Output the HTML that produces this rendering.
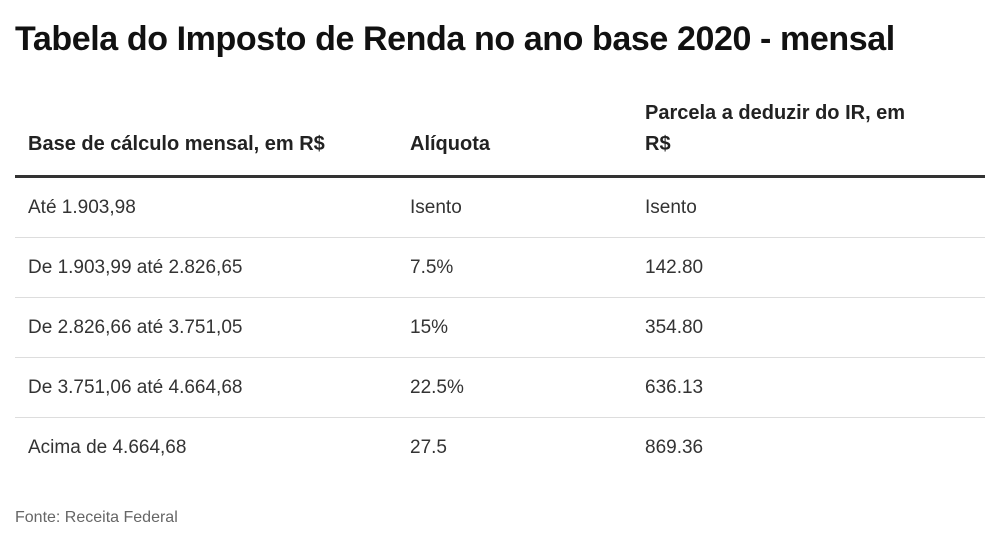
<!DOCTYPE html>
<html><head><meta charset="utf-8"><style>
html,body{margin:0;padding:0;background:#fff;width:1000px;height:543px;overflow:hidden;font-family:"Liberation Sans",sans-serif;color:#222;}
.title{position:absolute;left:15px;top:20px;font-size:34px;font-weight:bold;letter-spacing:-0.4px;color:#111;white-space:nowrap;}
table{position:absolute;left:15px;top:98px;width:970px;border-collapse:collapse;}
th{font-size:20px;font-weight:bold;text-align:left;vertical-align:bottom;padding:0 0 15px 0;line-height:31px;border-bottom:3px solid #333;color:#222;}
td{font-size:19px;height:59px;padding:0;border-bottom:1px solid #ddd;color:#333;}
tr:last-child td{border-bottom:none;}
.c1{padding-left:13px;width:382px;}
.c2{width:235px;}
.src{position:absolute;left:15px;top:509px;font-size:16px;color:#666;}
</style></head><body>
<div class="title">Tabela do Imposto de Renda no ano base 2020 - mensal</div>
<table>
<thead><tr>
<th class="c1">Base de cálculo mensal, em R$</th>
<th class="c2">Alíquota</th>
<th>Parcela a deduzir do IR, em<br>R$</th>
</tr></thead>
<tbody>
<tr><td class="c1">Até 1.903,98</td><td class="c2">Isento</td><td>Isento</td></tr>
<tr><td class="c1">De 1.903,99 até 2.826,65</td><td class="c2">7.5%</td><td>142.80</td></tr>
<tr><td class="c1">De 2.826,66 até 3.751,05</td><td class="c2">15%</td><td>354.80</td></tr>
<tr><td class="c1">De 3.751,06 até 4.664,68</td><td class="c2">22.5%</td><td>636.13</td></tr>
<tr><td class="c1">Acima de 4.664,68</td><td class="c2">27.5</td><td>869.36</td></tr>
</tbody></table>
<div class="src">Fonte: Receita Federal</div>
</body></html>
